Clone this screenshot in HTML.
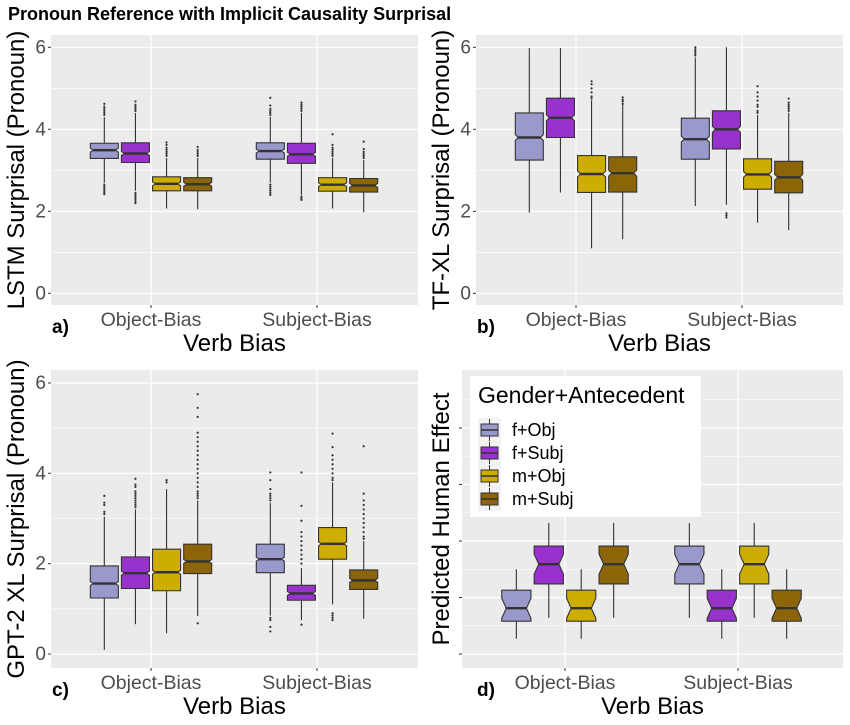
<!DOCTYPE html>
<html><head><meta charset="utf-8">
<style>
html,body{margin:0;padding:0;background:#fff;}
svg{display:block;font-family:"Liberation Sans",sans-serif;}
</style></head>
<body>
<svg id="fig" width="850" height="725" viewBox="0 0 850 725">
<text x="8" y="20" font-size="18" font-weight="bold">Pronoun Reference with Implicit Causality Surprisal</text>
</svg>
<script>
const categories = ["Object-Bias","Subject-Bias"];
const groups = ["f+Obj","f+Subj","m+Obj","m+Subj"];
const colors = ["#9999CC","#9932CC","#CDAD00","#8B6508"];
const yTicks = [0,2,4,6];
// each box: [whiskerLow, q1, median, q3, whiskerHigh]
const lstmObj = [[2.7,3.29,3.49,3.66,4.3],[2.5,3.19,3.41,3.67,4.4],[2.07,2.50,2.67,2.84,3.3],[2.05,2.50,2.66,2.82,3.3]];
const lstmSubj = [[2.7,3.27,3.47,3.67,4.3],[2.4,3.17,3.39,3.66,4.4],[2.07,2.49,2.65,2.82,3.3],[1.98,2.47,2.63,2.80,3.25]];
const lstmOut = [[[2.42,2.46,2.5,2.55,2.6,2.65,4.35,4.4,4.45,4.5,4.55,4.62],[2.2,2.25,2.3,2.35,2.4,2.45,4.45,4.5,4.55,4.6,4.68],[3.35,3.4,3.45,3.5,3.55,3.62,3.68],[3.35,3.4,3.45,3.5,3.57]],
                 [[2.4,2.45,2.5,2.55,2.6,2.65,4.35,4.4,4.45,4.5,4.58,4.77],[2.28,2.32,2.36,4.45,4.5,4.55,4.6,4.65],[3.35,3.4,3.45,3.5,3.55,3.62,3.88],[3.3,3.35,3.4,3.45,3.52,3.7]]];
const txlObj = [[1.97,3.25,3.80,4.40,5.98],[2.46,3.80,4.28,4.76,5.98],[1.10,2.46,2.91,3.36,4.71],[1.32,2.47,2.93,3.33,4.6]];
const txlSubj = [[2.13,3.27,3.76,4.27,5.75],[2.16,3.52,4.0,4.45,6.0],[1.72,2.54,2.9,3.28,4.35],[1.54,2.45,2.83,3.22,4.4]];
const txlOut = [[[],[],[4.75,4.8,4.9,5.0,5.1,5.17],[4.62,4.68,4.72,4.78]],
                [[5.8,5.85,5.9,5.95,6.0],[1.85,1.9,1.95],[4.4,4.45,4.55,4.6,4.7,4.8,4.9,5.05],[4.45,4.5,4.55,4.6,4.65,4.75]]];
const gptObj = [[0.09,1.24,1.56,1.95,3.04],[0.66,1.45,1.79,2.15,3.2],[0.46,1.40,1.81,2.32,3.65],[0.84,1.78,2.05,2.43,3.4]];
const gptSubj = [[0.85,1.80,2.10,2.43,3.35],[0.75,1.19,1.34,1.52,1.9],[1.1,2.10,2.44,2.80,3.8],[0.78,1.43,1.63,1.86,2.5]];
const gptOut = [[[3.1,3.15,3.3,3.35,3.5],[3.25,3.3,3.35,3.4,3.45,3.5,3.55,3.6,3.7,3.75,3.88],[3.8,3.85],[0.68,3.45,3.5,3.55,3.6,3.7,3.8,3.9,4.0,4.1,4.2,4.3,4.4,4.5,4.6,4.7,4.8,4.9,5.25,5.45,5.75]],
                [[0.5,0.6,0.75,0.8,3.4,3.45,3.5,3.55,3.65,3.85,4.02],[0.65,2.0,2.1,2.2,2.3,2.4,2.5,2.6,2.7,2.95,3.28,4.02],[0.75,0.8,0.85,0.9,3.85,3.9,4.0,4.1,4.2,4.3,4.4,4.58,4.88],[2.55,2.6,2.7,2.8,2.9,3.0,3.1,3.2,3.3,3.4,3.55,4.6]]];
const humanObj = [[0.27,0.58,0.81,1.13,1.50],[0.64,1.24,1.59,1.91,2.32],[0.27,0.58,0.81,1.13,1.50],[0.64,1.24,1.59,1.91,2.32]];
const humanSubj = [[0.64,1.24,1.59,1.91,2.32],[0.27,0.58,0.81,1.13,1.50],[0.64,1.24,1.59,1.91,2.32],[0.27,0.58,0.81,1.13,1.50]];
const humanOut = [[[],[],[],[]],[[],[],[],[]]];

const NS="http://www.w3.org/2000/svg";
const svg=document.getElementById('fig');
function mk(tag,attrs,parent){const e=document.createElementNS(NS,tag);for(const k in attrs)e.setAttribute(k,attrs[k]);(parent||svg).appendChild(e);return e;}

function panel(p){
  const g=mk('g',{});
  
  
  const y=v=>p.y0-(v-p.vmin)*p.ppu;
  const xc=i=>p.cx0+i*p.cstep;
  mk('rect',{x:p.x0,y:p.top,width:p.x1-p.x0,height:p.bot-p.top,fill:'#EBEBEB'},g);
  for(const v of p.minor){mk('line',{x1:p.x0,x2:p.x1,y1:y(v),y2:y(v),stroke:'#fff','stroke-width':0.6},g);}
  for(const v of p.major){mk('line',{x1:p.x0,x2:p.x1,y1:y(v),y2:y(v),stroke:'#fff','stroke-width':1.2},g);}
  categories.forEach((c,i)=>{mk('line',{x1:xc(i),x2:xc(i),y1:p.top,y2:p.bot,stroke:'#fff','stroke-width':1.2},g);
    mk('line',{x1:xc(i),x2:xc(i),y1:p.bot,y2:p.bot+3,stroke:'#333','stroke-width':1},g);
    const t=mk('text',{x:xc(i),y:p.bot+21,'text-anchor':'middle','font-size':19.5,fill:'#4D4D4D'},g);t.textContent=c;
    });
  for(const v of p.major){mk('line',{x1:p.x0-3,x2:p.x0,y1:y(v),y2:y(v),stroke:'#333','stroke-width':1},g);
    if(p.labels){const t=mk('text',{x:p.x0-5,y:y(v)+6,'text-anchor':'end','font-size':19,fill:'#4D4D4D'},g);t.textContent=v;
    }}
  const slot=p.cstep*0.75/4, bw=slot*0.9;
  [p.dataObj,p.dataSubj].forEach((arr,i)=>{
    arr.forEach((b,j)=>{
      const cx=xc(i)+(j-1.5)*slot, L=cx-bw/2, R=cx+bw/2;
      const bg=mk('g',{},g);
      
      
      mk('line',{x1:cx,x2:cx,y1:y(b[0]),y2:y(b[4]),stroke:'#333','stroke-width':1.1},bg);
      p.out[i][j].forEach(v=>mk('circle',{cx:cx,cy:y(v),r:1.1,fill:'#333'},bg));
      const yq1=y(b[1]),yq3=y(b[3]),ym=y(b[2]);
      const nh=Math.min(p.notchH,(yq1-yq3)/2-0.5), ni=p.notchI;
      const d=`M${L},${yq3}H${R}V${ym-nh}L${R-ni},${ym}L${R},${ym+nh}V${yq1}H${L}V${ym+nh}L${L+ni},${ym}L${L},${ym-nh}Z`;
      mk('path',{d:d,fill:colors[j],stroke:'#333','stroke-width':1.1},bg);
      mk('line',{x1:L+ni,x2:R-ni,y1:ym,y2:ym,stroke:'#333','stroke-width':2.4},bg);
    });
  });
  const xt=mk('text',{x:(p.x0+p.x1)/2,y:p.bot+46,'text-anchor':'middle','font-size':24,fill:'#000'},g);xt.textContent='Verb Bias';
  
  const yc=(p.top+p.bot)/2;
  const yt=mk('text',{x:p.ytx,y:yc,'text-anchor':'middle','font-size':24,fill:'#000',transform:`rotate(-90 ${p.ytx} ${yc})`},g);yt.textContent=p.ytitle;
  
  const pl=mk('text',{x:p.lx,y:p.bot+28,'font-size':19,'font-weight':'bold',fill:'#000'},g);pl.textContent=p.tag;
  
  return g;
}
panel({name:'panel-a-lstm',x0:51,x1:418,top:35,bot:305,y0:293.3,vmin:0,ppu:41,cx0:151,cstep:166,major:[0,2,4,6],minor:[1,3,5],labels:true,
  dataObj:lstmObj,dataSubj:lstmSubj,out:lstmOut,notchH:2,notchI:3,ytitle:'LSTM Surprisal (Pronoun)',ytx:24,lx:52,tag:'a)'});
panel({name:'panel-b-txl',x0:476,x1:843,top:35,bot:305,y0:293.3,vmin:0,ppu:41,cx0:576,cstep:166,major:[0,2,4,6],minor:[1,3,5],labels:true,
  dataObj:txlObj,dataSubj:txlSubj,out:txlOut,notchH:3,notchI:3,ytitle:'TF-XL Surprisal (Pronoun)',ytx:449,lx:477,tag:'b)'});
panel({name:'panel-c-gpt2',x0:51,x1:418,top:370,bot:668,y0:654,vmin:0,ppu:45.17,cx0:151,cstep:166,major:[0,2,4,6],minor:[1,3,5],labels:true,
  dataObj:gptObj,dataSubj:gptSubj,out:gptOut,notchH:2,notchI:3,ytitle:'GPT-2 XL Surprisal (Pronoun)',ytx:24,lx:52,tag:'c)'});
panel({name:'panel-d-human',x0:462,x1:843,top:370,bot:668,y0:654,vmin:0,ppu:56.5,cx0:565,cstep:173,major:[0,1,2,3,4],minor:[0.5,1.5,2.5,3.5,4.5],labels:false,
  dataObj:humanObj,dataSubj:humanSubj,out:humanOut,notchH:10,notchI:4.5,ytitle:'Predicted Human Effect',ytx:449,lx:477,tag:'d)'});

const lg=mk('g',{});


mk('rect',{x:470,y:376,width:231,height:141,fill:'#fff'},lg);
const lt=mk('text',{x:478,y:403,'font-size':23,fill:'#000'},lg);lt.textContent='Gender+Antecedent';
mk('rect',{x:478,y:418,width:23,height:93,fill:'#F2F2F2'},lg);
groups.forEach((gname,i)=>{
  const cy=430+i*23;
  const e=mk('g',{},lg);
  
  
  mk('line',{x1:489.5,x2:489.5,y1:cy-11,y2:cy+11,stroke:'#333','stroke-width':1},e);
  mk('rect',{x:481,y:cy-6,width:17,height:12,fill:colors[i],stroke:'#333','stroke-width':1},e);
  mk('line',{x1:481,x2:498,y1:cy,y2:cy,stroke:'#333','stroke-width':1.6},e);
  const t=mk('text',{x:512,y:cy+6,'font-size':18,fill:'#000'},e);t.textContent=gname;
});
</script>
</body></html>
